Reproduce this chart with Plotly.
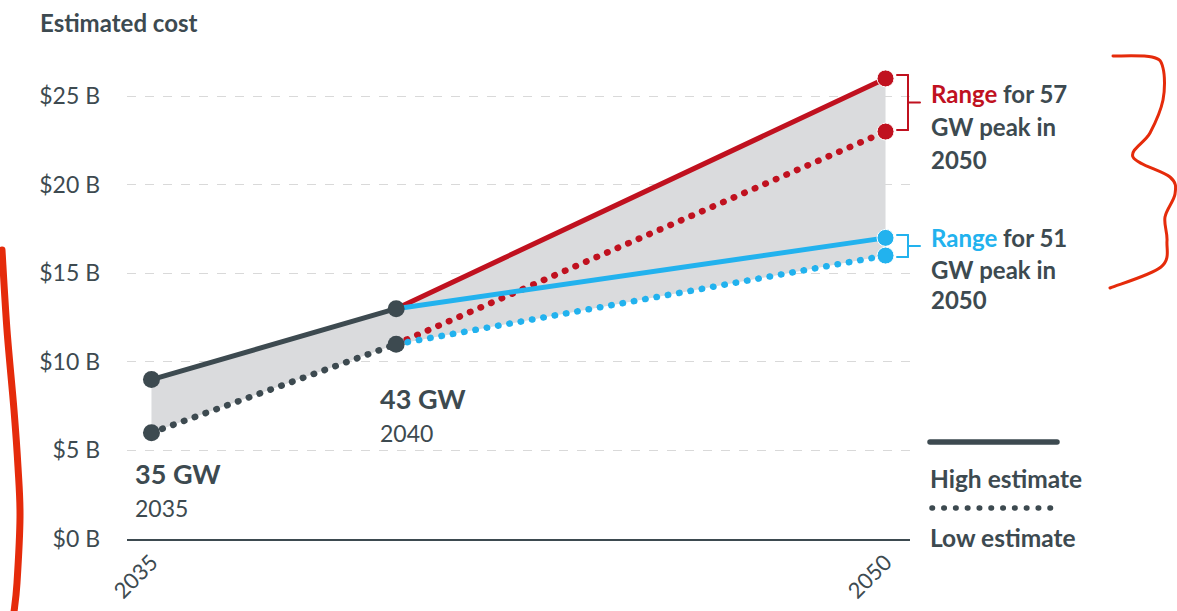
import plotly.graph_objects as go

# ---------------- data ----------------
base_years = [2035, 2040]
base_high = [9, 13]
base_low = [6, 11]
proj_years = [2040, 2050]
high_57 = [13, 26]
low_57 = [11, 23]
high_51 = [13, 17]
low_51 = [11, 16]
y_ticks = [0, 5, 10, 15, 20, 25]
y_tick_labels = ["$0 B", "$5 B", "$10 B", "$15 B", "$20 B", "$25 B"]
x_ticks = [2035, 2050]
x_tick_labels = ["2035", "2050"]
point_labels = [("35 GW", "2035"), ("43 GW", "2040")]

# ---------------- style ----------------
DARK = "#3d4a50"
RED = "#c0111f"
BLUE = "#22b2ee"
FILL = "#dadbdd"
HAND = "#e52b0b"
FONT = "Lato"
DOT = "0.5px,11px"

# pixel -> paper helpers (plot area: x 127..910, y 43..539)
L, R, T, B = 127, 910, 43, 539
W, H = 1177, 611
def ax(px):
    return (px - L) / (R - L)
def ay(py):
    return (B - py) / (B - T)

def smooth_path(pts):
    P = [(ax(x), ay(y)) for x, y in pts]
    s = f"M {P[0][0]:.5f},{P[0][1]:.5f}"
    for i in range(len(P) - 1):
        p0 = P[i - 1] if i > 0 else P[i]
        p1 = P[i]
        p2 = P[i + 1]
        p3 = P[i + 2] if i + 2 < len(P) else P[i + 1]
        c1 = (p1[0] + (p2[0] - p0[0]) / 6, p1[1] + (p2[1] - p0[1]) / 6)
        c2 = (p2[0] - (p3[0] - p1[0]) / 6, p2[1] - (p3[1] - p1[1]) / 6)
        s += f" C {c1[0]:.5f},{c1[1]:.5f} {c2[0]:.5f},{c2[1]:.5f} {p2[0]:.5f},{p2[1]:.5f}"
    return s

fig = go.Figure()

# envelope (gray range)
upper = base_high + [high_57[-1]]
lower = base_low + [low_51[-1]]
env_x = base_years + [proj_years[-1]]
fig.add_trace(go.Scatter(
    x=env_x + env_x[::-1], y=upper + lower[::-1],
    fill="toself", fillcolor=FILL, line=dict(width=0), mode="lines",
    hoverinfo="skip", showlegend=False))

def series(x, y, color, dash):
    fig.add_trace(go.Scatter(
        x=x, y=y, mode="lines+markers",
        line=dict(color=color, width=5 if dash == "solid" else 6.5, dash=dash),
        marker=dict(color=color, size=[0] * (len(x) - 1) + [17], opacity=1),
        showlegend=False, hoverinfo="skip"))

series(proj_years, low_57, RED, DOT)
series(proj_years, high_57, RED, "solid")
series(proj_years, low_51, BLUE, DOT)
series(proj_years, high_51, BLUE, "solid")
fig.add_trace(go.Scatter(x=base_years, y=base_low, mode="lines+markers",
                         line=dict(color=DARK, width=6.5, dash=DOT),
                         marker=dict(color=DARK, size=17, opacity=1), showlegend=False, hoverinfo="skip"))
fig.add_trace(go.Scatter(x=base_years, y=base_high, mode="lines+markers",
                         line=dict(color=DARK, width=5),
                         marker=dict(color=DARK, size=17, opacity=1), showlegend=False, hoverinfo="skip"))

annotations = []
def txt(text, px, py, size, bold=False, color=DARK, xanchor="left"):
    annotations.append(dict(
        text=f"<b>{text}</b>" if bold else text, x=ax(px), y=ay(py),
        xref="paper", yref="paper", xanchor=xanchor, yanchor="middle",
        showarrow=False, font=dict(family=FONT, size=size, color=color)))

txt("Estimated cost", 38, 22, 24, bold=True)
# point labels
txt(point_labels[0][0], 133, 473, 27, bold=True)
txt(point_labels[0][1], 133, 508, 23)
txt(point_labels[1][0], 378, 398, 27, bold=True)
txt(point_labels[1][1], 378, 433, 23)
# range labels
txt(f"<span style='color:{RED}'>Range</span> for 57", 929, 93, 24, bold=True)
txt("GW peak in", 929, 127, 24, bold=True)
txt("2050", 929, 160, 24, bold=True)
txt(f"<span style='color:{BLUE}'>Range</span> for 51", 929, 237, 24, bold=True)
txt("GW peak in", 929, 269, 24, bold=True)
txt("2050", 929, 300, 24, bold=True)
# legend
txt("High estimate", 928, 478, 24.5, bold=True)
txt("Low estimate", 928, 537, 24.5, bold=True)

shapes = []
def seg(x0, y0, x1, y1, color, width, dash="solid"):
    shapes.append(dict(type="line", xref="paper", yref="paper",
                       x0=ax(x0), y0=ay(y0), x1=ax(x1), y1=ay(y1),
                       line=dict(color=color, width=width, dash=dash)))

# brackets
for (ytop, ybot, color) in [(75, 130, RED), (235, 257, BLUE)]:
    seg(897, ytop, 908, ytop, color, 2)
    seg(908, ytop, 908, ybot, color, 2)
    seg(897, ybot, 908, ybot, color, 2)
    seg(908, (ytop + ybot) / 2, 920, (ytop + ybot) / 2, color, 2)

# legend lines
seg(930, 442, 1057, 442, DARK, 5.5)
seg(932, 508, 1053, 508, DARK, 5.5, dash="0.5px,11.3px")

# hand-drawn marks
shapes.append(dict(type="path", xref="paper", yref="paper",
                   path=smooth_path([(2, 250), (7, 330), (14, 410), (18, 467), (20, 517), (17, 583), (14, 612)]),
                   line=dict(color=HAND, width=7)))
shapes.append(dict(type="path", xref="paper", yref="paper",
                   path=smooth_path([(1113, 56), (1152, 57), (1163, 68), (1163, 100), (1150, 133),
                                     (1133, 157), (1170, 177), (1175, 194), (1165, 217), (1167, 241),
                                     (1161, 267), (1110, 288)]),
                   line=dict(color=HAND, width=3)))

fig.update_layout(
    width=W, height=H, autosize=False,
    margin=dict(l=L, r=W - R, t=T, b=H - B, autoexpand=False),
    paper_bgcolor="white", plot_bgcolor="white",
    font=dict(family=FONT, color=DARK),
    showlegend=False,
    annotations=annotations, shapes=shapes,
    xaxis=dict(range=[2034.5, 2050.5], tickvals=x_ticks, ticktext=x_tick_labels,
               tickangle=-45, showgrid=False, zeroline=False, automargin=False,
               showline=True, linecolor=DARK, linewidth=1.5,
               tickfont=dict(family=FONT, size=22, color=DARK), ticklabelstandoff=0,
               fixedrange=True),
    yaxis=dict(range=[0, 28], tickvals=y_ticks, ticktext=y_tick_labels,
               showgrid=True, gridcolor="#d9d9d9", griddash="dash", gridwidth=1,
               zeroline=False, showline=False, automargin=False,
               tickfont=dict(family=FONT, size=23, color=DARK), ticklabelstandoff=26,
               fixedrange=True),
)

post = """
var css='margin:0;padding:0;overflow:hidden;';
document.documentElement.style.cssText=css;
document.body.style.cssText=css;
var gd=document.getElementById('{plot_id}');
function rc(){gd.querySelectorAll('.scatterlayer .js-line, .shapelayer path').forEach(function(p){p.style.strokeLinecap='round';p.style.strokeLinejoin='round';});}
rc(); if(gd.on){gd.on('plotly_afterplot', rc);}
"""
fig.write_html("out.html", post_script=post, default_width="1177px", default_height="611px",
               config={"displayModeBar": False, "responsive": False})
